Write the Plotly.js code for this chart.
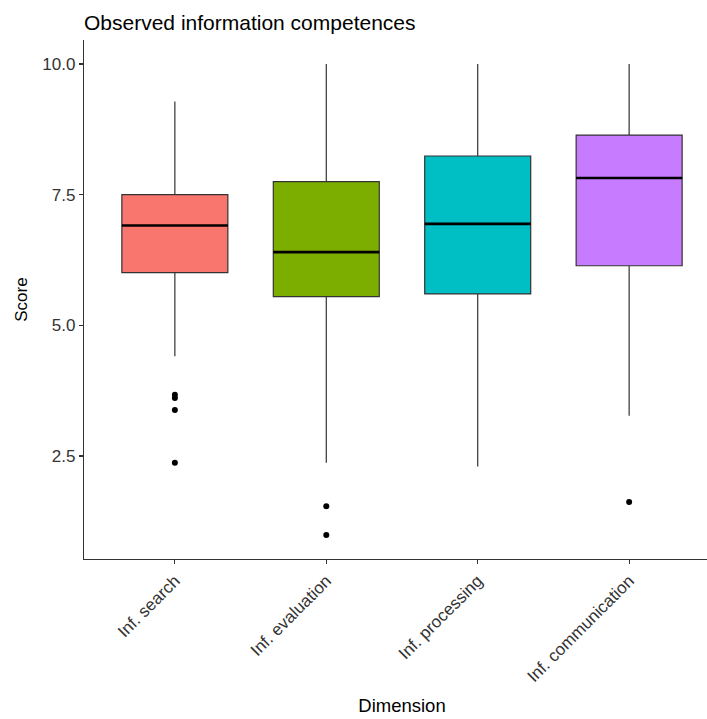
<!DOCTYPE html>
<html>
<head>
<meta charset="utf-8">
<script src="https://cdn.plot.ly/plotly-3.0.1.min.js"></script>
<style>
  html, body { margin: 0; padding: 0; background: #fff; overflow: hidden; }
  #chart { width: 720px; height: 719px; }
</style>
</head>
<body>
<div id="chart"></div>
<script>
// Five-number summaries per information-competence dimension
const dimensions = ["Inf. search", "Inf. evaluation", "Inf. processing", "Inf. communication"];
const lowerWhisker = [4.41, 2.37, 2.30, 3.27];
const q1Values     = [6.01, 5.55, 5.60, 6.14];
const medianValues = [6.91, 6.40, 6.94, 7.82];
const q3Values     = [7.50, 7.75, 8.24, 8.64];
const upperWhisker = [9.28, 10.0, 10.0, 10.0];
const fillColors   = ["#F8766D", "#7CAE00", "#00BFC4", "#C77CFF"];

// Outlying observations
const outlierDim   = ["Inf. search", "Inf. search", "Inf. search", "Inf. search",
                      "Inf. evaluation", "Inf. evaluation", "Inf. communication"];
const outlierScore = [3.67, 3.61, 3.38, 2.37, 1.54, 0.99, 1.62];

const yTicks = [2.5, 5.0, 7.5, 10.0];

const traces = dimensions.map((d, i) => ({
  type: "box",
  x: [d],
  q1: [q1Values[i]],
  median: [medianValues[i]],
  q3: [q3Values[i]],
  lowerfence: [lowerWhisker[i]],
  upperfence: [upperWhisker[i]],
  boxpoints: false,
  width: 0.7,
  whiskerwidth: 0,
  fillcolor: fillColors[i],
  line: { color: "#333333", width: 1.2 },
  hoverinfo: "skip",
  showlegend: false
}));

// Heavier median bars drawn on top of the boxes
traces.push({
  type: "box",
  x: dimensions,
  q1: medianValues,
  median: medianValues,
  q3: medianValues,
  lowerfence: medianValues,
  upperfence: medianValues,
  boxpoints: false,
  width: 0.7,
  whiskerwidth: 0,
  fillcolor: "rgba(0,0,0,0)",
  line: { color: "#000000", width: 2.6 },
  hoverinfo: "skip",
  showlegend: false
});

traces.push({
  type: "scatter",
  mode: "markers",
  x: outlierDim,
  y: outlierScore,
  marker: { color: "#000000", size: 6 },
  hoverinfo: "skip",
  showlegend: false
});

const layout = {
  width: 720,
  height: 719,
  margin: { l: 84, r: 0, t: 40, b: 160 },
  paper_bgcolor: "#ffffff",
  plot_bgcolor: "#ffffff",
  font: { family: "Liberation Sans, Arial, sans-serif", color: "#000000" },
  title: {
    text: "Observed information competences",
    x: 0, xref: "paper", xanchor: "left",
    y: 0.969, yref: "container", yanchor: "middle",
    font: { size: 21, color: "#000000" }
  },
  xaxis: {
    type: "category",
    categoryorder: "array",
    categoryarray: dimensions,
    range: [-0.6, 3.6],
    showgrid: false,
    zeroline: false,
    showline: true,
    linecolor: "#333333",
    linewidth: 1.2,
    ticks: "outside",
    ticklen: 4,
    tickwidth: 1.1,
    tickcolor: "#333333",
    tickangle: -45,
    tickfont: { size: 17, color: "#333333" },
    title: { text: "Dimension", font: { size: 18.5 }, standoff: 14 },
    automargin: false
  },
  yaxis: {
    range: [0.529, 10.459],
    tickvals: yTicks,
    tickformat: ".1f",
    showgrid: false,
    zeroline: false,
    showline: true,
    linecolor: "#333333",
    linewidth: 1.2,
    ticks: "outside",
    ticklen: 4,
    tickwidth: 1.1,
    tickcolor: "#333333",
    tickfont: { size: 17, color: "#333333" },
    title: { text: "Score", font: { size: 17 }, standoff: 10 },
    automargin: false
  }
};

Plotly.newPlot("chart", traces, layout, { displayModeBar: false, staticPlot: true });
</script>
</body>
</html>
